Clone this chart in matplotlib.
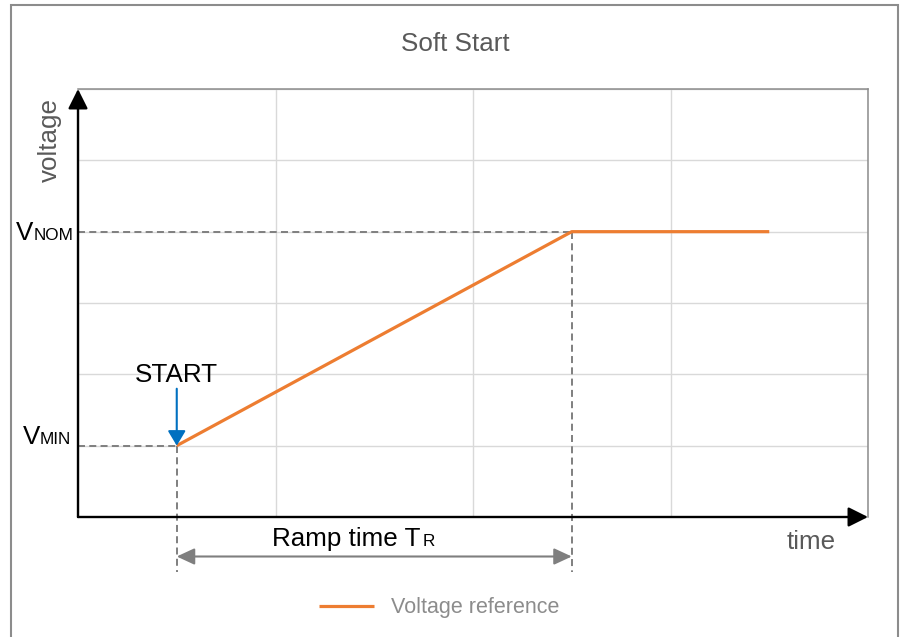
import matplotlib
matplotlib.use('Agg')
import matplotlib.pyplot as plt
from matplotlib import transforms
from matplotlib.patches import Rectangle

plt.rcParams['font.family'] = ['Liberation Sans', 'DejaVu Sans']

# data
time = [0.5, 2.5, 3.5]
voltage = [1, 4, 4]
v_min = 1
v_nom = 4
t_start = 0.5
t_ramp_end = 2.5
x_max = 4
y_max = 6
series_name = 'Voltage reference'

orange = '#ED7D31'
blue = '#0070C0'
dash_gray = '#7F7F7F'
text_gray = '#595959'

fig = plt.figure(figsize=(9.02, 6.37), dpi=100)
ax = fig.add_axes([78/902, 1-517/637, 790/902, 428/637])

ax.set_xlim(0, x_max)
ax.set_ylim(0, y_max)
ax.set_xticks(range(x_max + 1))
ax.set_yticks(range(y_max + 1))
ax.tick_params(length=0, labelbottom=False, labelleft=False)
ax.grid(True, color='#D9D9D9', lw=1)
ax.set_axisbelow(True)

for s in ['left', 'bottom']:
    ax.spines[s].set_visible(False)
for s in ['top', 'right']:
    ax.spines[s].set_color('#8C8C8C')
    ax.spines[s].set_linewidth(1.1)

# axis arrows
arr = dict(arrowstyle='-|>', lw=1.7, color='black', mutation_scale=30,
           shrinkA=0, shrinkB=0)
ax.annotate('', xy=(0, 1), xytext=(0, 0), xycoords='axes fraction',
            arrowprops=arr, annotation_clip=False)
ax.annotate('', xy=(1, 0), xytext=(0, 0), xycoords='axes fraction',
            arrowprops=arr, annotation_clip=False)

# dashed helper lines
drop = 0.77
dash = dict(color=dash_gray, lw=1.4, ls=(0, (3.6, 2.2)), clip_on=False, zorder=2)
ax.plot([0, t_start], [v_min, v_min], **dash)
ax.plot([0, t_ramp_end], [v_nom, v_nom], **dash)
ax.plot([t_start, t_start], [v_min, -drop], **dash)
ax.plot([t_ramp_end, t_ramp_end], [v_nom, -drop], **dash)

# the ramp
line, = ax.plot(time, voltage, color=orange, lw=2.3, solid_capstyle='butt',
                zorder=4, label=series_name)

# START arrow
ax.annotate('', xy=(t_start, v_min), xytext=(0, 41), textcoords='offset points',
            arrowprops=dict(arrowstyle='-|>,head_length=0.45,head_width=0.27',
                            mutation_scale=20, lw=1.5, color=blue,
                            shrinkA=0, shrinkB=0), zorder=5)
ax.annotate('START', xy=(t_start, v_min), xytext=(0, 46),
            textcoords='offset points', ha='center', va='baseline',
            fontsize=18.7, color='black')

# V labels
ytr = ax.get_yaxis_transform()
ax.annotate('NOM', xy=(0, v_nom), xycoords=ytr, xytext=(-2.9, -5.8),
            textcoords='offset points', ha='right', va='baseline',
            fontsize=12.3, annotation_clip=False)
ax.annotate('V', xy=(0, v_nom), xycoords=ytr, xytext=(-32.4, -5.8),
            textcoords='offset points', ha='right', va='baseline',
            fontsize=18.7, annotation_clip=False)
ax.annotate('MIN', xy=(0, v_min), xycoords=ytr, xytext=(-5, 1.4),
            textcoords='offset points', ha='right', va='baseline',
            fontsize=12.3, annotation_clip=False)
ax.annotate('V', xy=(0, v_min), xycoords=ytr, xytext=(-27.4, 1.4),
            textcoords='offset points', ha='right', va='baseline',
            fontsize=18.7, annotation_clip=False)

# ramp time arrow
xtr = ax.get_xaxis_transform()
ramp_tr = transforms.offset_copy(xtr, fig=fig, y=-39.5, units='dots')
ax.annotate('', xy=(t_ramp_end, 0), xytext=(t_start, 0), xycoords=ramp_tr,
            textcoords=ramp_tr,
            arrowprops=dict(arrowstyle='<|-|>,head_length=0.54,head_width=0.25',
                            mutation_scale=20, lw=1.5, color=dash_gray,
                            shrinkA=0, shrinkB=0), annotation_clip=False)
ax.annotate('Ramp time T', xy=(t_start, 0), xycoords=xtr, xytext=(68.4, -20.9),
            textcoords='offset points', ha='left', va='baseline',
            fontsize=18.7, annotation_clip=False)
ax.annotate('R', xy=(t_start, 0), xycoords=xtr, xytext=(177.1, -20.9),
            textcoords='offset points', ha='left', va='baseline',
            fontsize=12.3, annotation_clip=False)

# axis names
ax.text(-0.035, 0.881, 'voltage', transform=ax.transAxes, rotation=90,
        ha='center', va='center', fontsize=18.7, color=text_gray)
ax.text(0.9285, -0.058, 'time', transform=ax.transAxes,
        ha='center', va='center', fontsize=18.7, color=text_gray)

fig.text(455/902, 1-44/637, 'Soft Start', ha='center', va='center',
         fontsize=18.7, color=text_gray)

fig.legend(handles=[line], loc='center', bbox_to_anchor=(439/902, 1-608/637),
           frameon=False, fontsize=15.5, labelcolor='#8C8C8C',
           handlelength=2.55, handletextpad=0.8)

# outer frame
fig.add_artist(Rectangle((11/902, -0.05), 887/902, 632/637 + 0.05,
                         transform=fig.transFigure, fill=False,
                         edgecolor='#8C8C8C', lw=1.5))

fig.savefig('out.png', dpi=100)
